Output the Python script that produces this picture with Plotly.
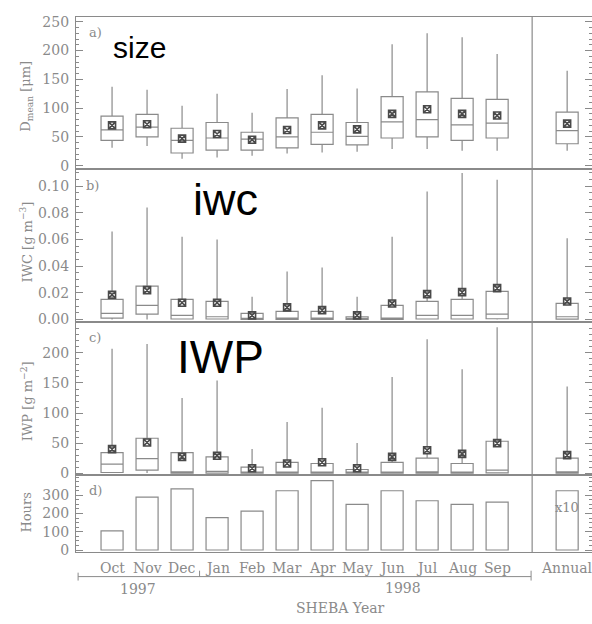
import plotly.graph_objects as go

# ---------------- data ----------------
months = ["Oct", "Nov", "Dec", "Jan", "Feb", "Mar", "Apr", "May", "Jun", "Jul", "Aug", "Sep"]
categories = months + ["Annual"]
positions = list(range(12)) + [13]

# a) Dmean [um]
d_hi = [137, 132, 104, 125, 92, 133, 157, 134, 211, 230, 223, 194, 165]
d_q3 = [86, 89, 65, 75, 58, 83, 89, 75, 120, 128, 117, 115, 93]
d_med = [62, 67, 44, 48, 46, 50, 58, 51, 76, 80, 71, 74, 61]
d_q1 = [44, 50, 22, 27, 27, 31, 37, 36, 48, 50, 44, 48, 38]
d_lo = [31, 34, 12, 14, 17, 21, 23, 24, 29, 29, 26, 26, 26]
d_mean = [70, 72, 47, 55, 45, 62, 70, 63, 90, 98, 90, 87, 73]

# b) IWC [g m-3]
w_hi = [0.066, 0.084, 0.062, 0.060, 0.017, 0.036, 0.039, 0.017, 0.062, 0.096, 0.110, 0.105, 0.061]
w_q3 = [0.015, 0.025, 0.015, 0.0135, 0.0045, 0.006, 0.006, 0.002, 0.0105, 0.0135, 0.015, 0.021, 0.012]
w_med = [0.0045, 0.0105, 0.003, 0.002, 0.0005, 0.001, 0.001, 0.0005, 0.001, 0.003, 0.003, 0.004, 0.002]
w_q1 = [0.001, 0.004, 0.0003, 0.0003, 0.0, 0.0, 0.0, 0.0, 0.0, 0.0003, 0.0003, 0.0005, 0.0002]
w_lo = [0.0] * 13
w_mean = [0.0185, 0.022, 0.0125, 0.0125, 0.003, 0.009, 0.007, 0.003, 0.012, 0.019, 0.0205, 0.0235, 0.0135]

# c) IWP [g m-2]
p_hi = [207, 215, 125, 154, 40, 85, 109, 50, 160, 223, 173, 243, 144]
p_q3 = [34, 58, 34, 27, 10, 18, 16, 6, 18, 25, 16, 53, 25]
p_med = [15, 24, 2, 3, 1, 1, 1, 0.5, 1, 2, 1, 5, 2]
p_q1 = [1, 5, 0, 0, 0, 0, 0, 0, 0, 0, 0, 0.5, 0]
p_lo = [0] * 13
p_mean = [40, 51, 27, 29, 8, 16, 18, 8, 27, 38, 32, 50, 30]

# d) Hours (annual shown /10)
hours = [105, 290, 335, 178, 213, 325, 380, 250, 325, 270, 250, 262, 325]

year_labels = ["1997", "1998"]

# tick labels per panel
yticks_a = [0, 50, 100, 150, 200, 250]
yticks_b = [0.0, 0.02, 0.04, 0.06, 0.08, 0.10]
yticks_c = [0, 50, 100, 150, 200]
yticks_d = [0, 100, 200, 300]

# ---------------- style ----------------
GRAY = "#8a8a8a"
DARK = "#4a4a4a"
SERIF = "DejaVu Serif"
W, H = 592, 624

def py(px):
    return 1 - px / H

XDOM = [76 / W, 1.0]
XRANGE = [-1.03, 13.71]
doms = [[py(168), py(14)], [py(324), py(168)], [py(479), py(324)], [py(557), py(479)]]
yranges = [[-5.1, 258.6], [-0.0022, 0.1133], [-3.3, 251], [-10.8, 410.8]]
ytickvals = [yticks_a, yticks_b, yticks_c, yticks_d]
yminor = [10, 0.005, 10, 25]
yfmt = ["", ".2f", "", ""]

fig = go.Figure()

def add_boxes(idx, lo, q1, med, q3, hi, mean):
    xa = "x" if idx == 1 else f"x{idx}"
    ya = "y" if idx == 1 else f"y{idx}"
    fig.add_trace(go.Box(
        x=positions, q1=q1, median=med, q3=q3, lowerfence=lo, upperfence=hi,
        width=0.63, whiskerwidth=0, boxpoints=False,
        fillcolor="rgba(0,0,0,0)", line=dict(color=GRAY, width=1.2),
        xaxis=xa, yaxis=ya, showlegend=False, hoverinfo="skip"))
    fig.add_trace(go.Scatter(
        x=positions, y=mean, mode="markers",
        marker=dict(symbol="square-x-open", size=7, color=DARK, line=dict(width=1.6)),
        xaxis=xa, yaxis=ya, showlegend=False, hoverinfo="skip"))

add_boxes(1, d_lo, d_q1, d_med, d_q3, d_hi, d_mean)
add_boxes(2, w_lo, w_q1, w_med, w_q3, w_hi, w_mean)
add_boxes(3, p_lo, p_q1, p_med, p_q3, p_hi, p_mean)

fig.add_trace(go.Bar(
    x=positions, y=hours, width=0.63,
    marker=dict(color="rgba(0,0,0,0)", line=dict(color=GRAY, width=1.2)),
    xaxis="x4", yaxis="y4", showlegend=False, hoverinfo="skip"))

layout = dict(
    width=W, height=H, margin=dict(l=0, r=0, t=0, b=0),
    paper_bgcolor="white", plot_bgcolor="white",
    font=dict(family=SERIF, size=14, color=GRAY),
    showlegend=False,
)

for i in range(4):
    n = "" if i == 0 else str(i + 1)
    layout["xaxis" + n] = dict(
        domain=XDOM, range=XRANGE, anchor="y" + n,
        showline=True, mirror=True, linecolor=GRAY, linewidth=1.2,
        ticks="", showticklabels=False, showgrid=False, zeroline=False)
    layout["yaxis" + n] = dict(
        domain=doms[i], range=yranges[i], anchor="x" + n,
        showline=True, linecolor=GRAY, linewidth=1.2,
        ticks="inside", ticklen=7, tickcolor=GRAY, tickwidth=1,
        tickmode="array", tickvals=ytickvals[i], tickformat=yfmt[i],
        minor=dict(ticks="inside", ticklen=3, tickmode="linear", tick0=0,
                   dtick=yminor[i], tickcolor=GRAY),
        tickfont=dict(family=SERIF, size=14, color=GRAY),
        ticklabelstandoff=3,
        showgrid=False, zeroline=False)
    rn = str(i + 5)
    layout["yaxis" + rn] = dict(
        overlaying="y" + n, side="right", range=yranges[i], anchor="x" + n,
        showline=False, ticks="inside", ticklen=7, tickcolor=GRAY,
        tickmode="array", tickvals=ytickvals[i], showticklabels=False,
        minor=dict(ticks="inside", ticklen=3, tickmode="linear", tick0=0,
                   dtick=yminor[i], tickcolor=GRAY),
        showgrid=False, zeroline=False)
    fig.add_trace(go.Scatter(x=[None], y=[None], xaxis="x" + n, yaxis="y" + rn,
                             showlegend=False, hoverinfo="skip"))

fig.update_layout(**layout)

shapes = []
shapes.append(dict(type="line", xref="x4", yref="paper", x0=12, x1=12,
                   y0=py(557), y1=py(14), line=dict(color=GRAY, width=1.2)))
shapes.append(dict(type="line", xref="x4", yref="paper", x0=-0.97, x1=11.97,
                   y0=py(582), y1=py(582), line=dict(color=GRAY, width=1)))
shapes.append(dict(type="line", xref="x4", yref="paper", x0=-0.97, x1=-0.97,
                   y0=py(578), y1=py(586), line=dict(color=GRAY, width=1)))
shapes.append(dict(type="line", xref="x4", yref="paper", x0=11.97, x1=11.97,
                   y0=py(576), y1=py(586), line=dict(color=GRAY, width=1)))
shapes.append(dict(type="line", xref="x4", yref="paper", x0=2.5, x1=2.5,
                   y0=py(576), y1=py(582), line=dict(color=GRAY, width=1)))
fig.update_layout(shapes=shapes)

def txt(x, xref, ypx, text, size=14, color=GRAY, family=SERIF, angle=0):
    return dict(x=x, xref=xref, y=py(ypx), yref="paper", text=text, showarrow=False,
                xanchor="center", yanchor="middle", textangle=angle,
                font=dict(family=family, size=size, color=color))

ann = []
for p, c in zip(positions, categories):
    ann.append(txt(p, "x4", 573, c))
ann.append(txt(0.75, "x4", 595, year_labels[0]))
ann.append(txt(8.3, "x4", 594, year_labels[1]))
ann.append(txt(340 / W, "paper", 614, "SHEBA Year"))
ann.append(txt(13, "x4", 512, "x10", size=13))

titles = [("D<sub>mean</sub> [\u03bcm]", 95), ("IWC [g m<sup>\u22123</sup>]", 243),
          ("IWP [g m<sup>\u22122</sup>]", 404), ("Hours", 517)]
for t, yc in titles:
    ann.append(txt(27 / W, "paper", yc, t, size=13, angle=-90))

for t, (xc, yc) in zip(["a)", "b)", "c)", "d)"], [(95, 30), (92, 185), (95, 339), (95, 495)]):
    ann.append(txt(xc / W, "paper", yc, t, size=13))

for t, xc, yc, s in [("size", 139, 45, 30), ("iwc", 225, 199, 45), ("IWP", 220, 359, 46)]:
    ann.append(txt(xc / W, "paper", yc, t, size=s, color="black", family="Liberation Sans"))

fig.update_layout(annotations=ann)

fig.write_html("out.html")
